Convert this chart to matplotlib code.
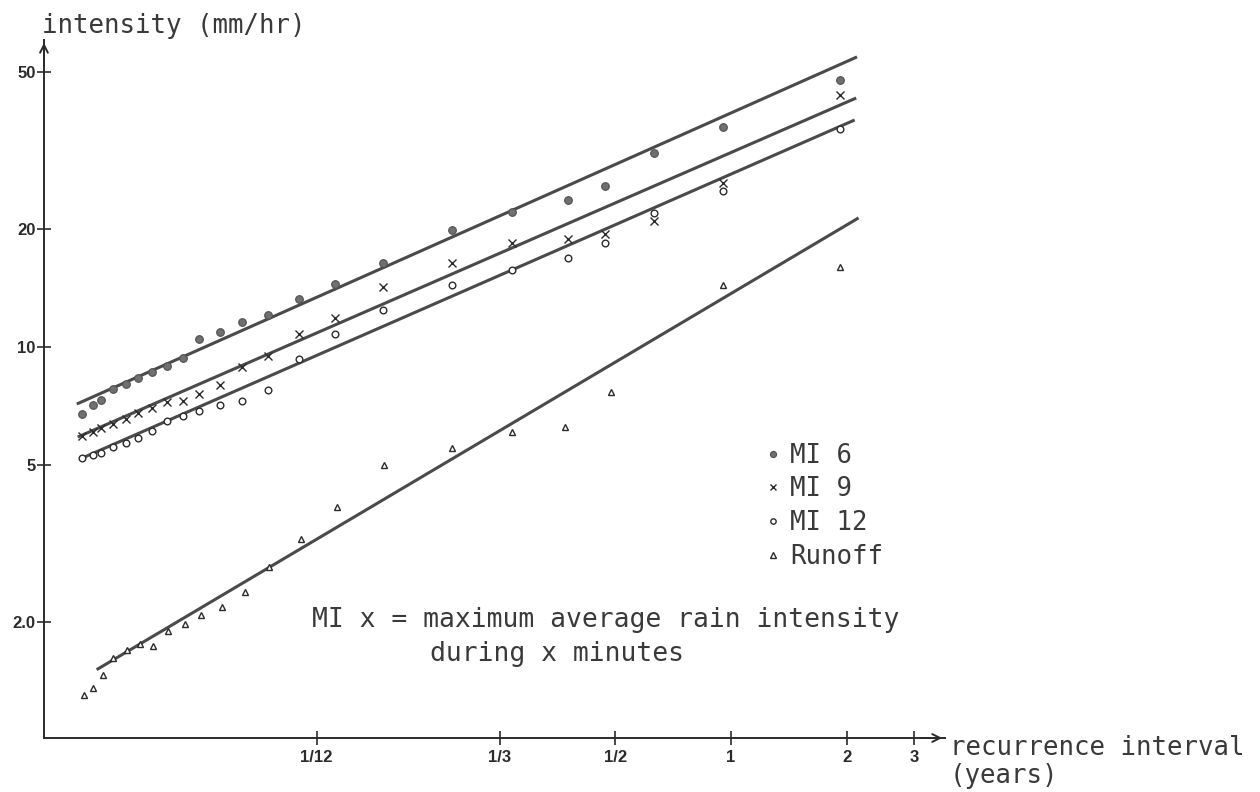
import matplotlib.pyplot as plt
from matplotlib.ticker import FixedLocator, FixedFormatter, NullLocator
import numpy as np

# recurrence interval (years) of the ranked rain events
t_rain = np.array([0.0204, 0.0218, 0.0229, 0.0246, 0.0266, 0.0286, 0.0311, 0.0340,
                   0.0374, 0.0412, 0.0467, 0.0533, 0.0623, 0.0750, 0.0931, 0.124,
                   0.188, 0.269, 0.376, 0.470, 0.630, 0.953, 1.92])
mi6 = np.array([6.75, 7.12, 7.33, 7.82, 8.05, 8.34, 8.64, 8.95, 9.38, 10.48, 10.92,
                11.58, 12.06, 13.25, 14.47, 16.36, 19.85, 22.06, 23.66, 25.69, 31.16,
                36.29, 47.8])
mi9 = np.array([5.94, 6.08, 6.22, 6.37, 6.56, 6.79, 7.00, 7.25, 7.29, 7.59, 8.00,
                8.89, 9.49, 10.79, 11.85, 14.21, 16.36, 18.39, 18.83, 19.39, 20.92,
                26.15, 43.77])
mi12 = np.array([5.22, 5.31, 5.38, 5.57, 5.70, 5.87, 6.11, 6.48, 6.68, 6.87, 7.12,
                 7.29, 7.77, 9.32, 10.79, 12.42, 14.38, 15.70, 16.85, 18.39, 21.93,
                 24.95, 35.86])

t_runoff = np.array([0.0207, 0.0218, 0.0232, 0.0246, 0.0267, 0.0289, 0.0312, 0.0342,
                     0.0379, 0.0417, 0.0473, 0.0543, 0.0627, 0.0759, 0.0942, 0.125,
                     0.188, 0.269, 0.370, 0.487, 0.953, 1.92])
runoff = np.array([1.30, 1.36, 1.46, 1.62, 1.69, 1.76, 1.73, 1.89, 1.97, 2.08, 2.18,
                   2.38, 2.76, 3.25, 3.92, 5.01, 5.53, 6.08, 6.26, 7.69, 14.38, 15.98])

# fitted straight lines (end points)
fit6_t, fit6_i = [0.0198, 2.13], [7.16, 54.7]
fit9_t, fit9_i = [0.0199, 2.12], [5.90, 43.0]
fit12_t, fit12_i = [0.0202, 2.10], [5.19, 37.8]
fitro_t, fitro_i = [0.0223, 2.15], [1.51, 21.3]

# tick marks as drawn on the original (the "1/3" mark sits where 1/4 would be)
xtick_pos = [1/12, 1/4, 1/2, 1, 2, 3]
xtick_lab = ["1/12", "1/3", "1/2", "1", "2", "3"]
ytick_pos = [2, 5, 10, 20, 50]
ytick_lab = ["2.0", "5", "10", "20", "50"]

mono = "DejaVu Sans Mono"
ink = "#2b2b2b"
txt = "#3a3a3a"
line_c = "#4a4a4a"

fig = plt.figure(figsize=(12.6, 7.92), dpi=100)
ax = fig.add_axes([0.0349, 0.0682, 0.7151, 0.8813])
ax.set_xscale("log")
ax.set_yscale("log")
ax.set_xlim(0.01626, 3.61)
ax.set_ylim(1.012, 60.4)

for ft, fi in [(fit6_t, fit6_i), (fit9_t, fit9_i), (fit12_t, fit12_i), (fitro_t, fitro_i)]:
    ax.plot(ft, fi, color=line_c, lw=2.2, solid_capstyle="butt", zorder=2)

ax.plot(t_rain, mi6, "o", ms=5.5, mfc="#707070", mec="#505050", mew=0.8,
        label="MI 6", zorder=3)
ax.plot(t_rain, mi9, "x", ms=5.5, color=ink, mew=1.0, label="MI 9", zorder=3)
ax.plot(t_rain, mi12, "o", ms=4.8, mfc="white", mec=ink, mew=1.0,
        label="MI 12", zorder=3)
ax.plot(t_runoff, runoff, "^", ms=5, mfc="white", mec=ink, mew=1.0,
        label="Runoff", zorder=3)

for s in ["top", "right"]:
    ax.spines[s].set_visible(False)
for s in ["left", "bottom"]:
    ax.spines[s].set_color(ink)
    ax.spines[s].set_linewidth(1.4)

ax.xaxis.set_major_locator(FixedLocator(xtick_pos))
ax.xaxis.set_major_formatter(FixedFormatter(xtick_lab))
ax.yaxis.set_major_locator(FixedLocator(ytick_pos))
ax.yaxis.set_major_formatter(FixedFormatter(ytick_lab))
ax.xaxis.set_minor_locator(NullLocator())
ax.yaxis.set_minor_locator(NullLocator())
ax.tick_params(direction="inout", length=10, width=1.2, color=ink,
               labelsize=12, labelcolor=ink)
ax.tick_params(axis="x", pad=4)
ax.tick_params(axis="y", pad=1)
for lab in ax.get_xticklabels() + ax.get_yticklabels():
    lab.set_fontfamily("Liberation Sans")
    lab.set_fontweight("bold")

# axis arrows
ax.annotate("", xy=(1, 0), xytext=(0.97, 0), xycoords="axes fraction",
            arrowprops=dict(arrowstyle="->", color=ink, lw=1.4, mutation_scale=14))
ax.annotate("", xy=(0, 1), xytext=(0, 0.96), xycoords="axes fraction",
            arrowprops=dict(arrowstyle="->", color=ink, lw=1.4, mutation_scale=14))

fig.text(42 / 1260, 1 - 33 / 792, "intensity (mm/hr)", family=mono, fontsize=18.5,
         color=txt, va="baseline")
fig.text(950 / 1260, 1 - 755 / 792, "recurrence interval", family=mono, fontsize=18.5,
         color=txt, va="baseline")
fig.text(950 / 1260, 1 - 783 / 792, "(years)", family=mono, fontsize=18.5,
         color=txt, va="baseline")
ax.text(0.2974, 0.159, "MI x = maximum average rain intensity", transform=ax.transAxes,
        family=mono, fontsize=19, color=txt, va="baseline")
ax.text(0.4284, 0.1103, "during x minutes", transform=ax.transAxes,
        family=mono, fontsize=19, color=txt, va="baseline")

ax.legend(loc="upper left", bbox_to_anchor=(0.800, 0.423), frameon=False,
          prop=dict(family=mono, size=18.5), handlelength=0.6, handletextpad=0.4,
          labelspacing=0.3, borderpad=0, borderaxespad=0, markerscale=0.8,
          labelcolor=txt)

fig.savefig("out.png", dpi=100)
